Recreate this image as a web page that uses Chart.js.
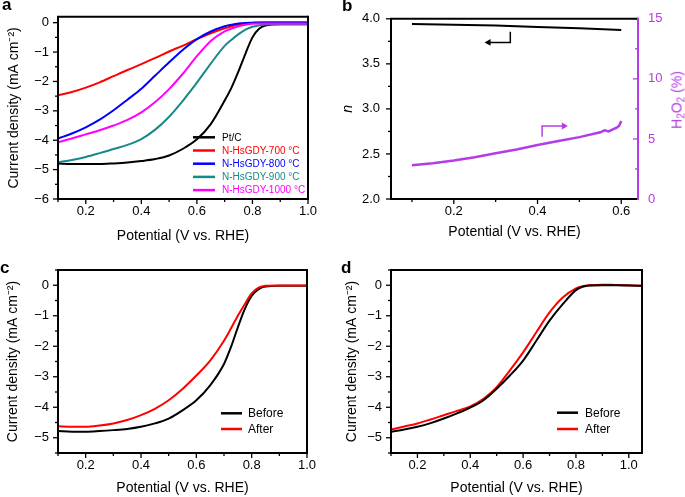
<!DOCTYPE html>
<html><head><meta charset="utf-8">
<script src="https://cdn.jsdelivr.net/npm/chart.js@4"></script>
<style>
html,body{margin:0;padding:0;background:#fff;}
#wrap{position:relative;width:685px;height:497px;overflow:hidden;background:#fff;font-family:"Liberation Sans",Arial,sans-serif;}
#wrap canvas{position:absolute;}
.lt{position:absolute;font-weight:bold;font-size:17px;line-height:17px;color:#000;}
.h2o2{position:absolute;left:678px;top:100px;color:#b43ce6;font-size:14px;line-height:1;white-space:nowrap;transform:translate(-50%,-50%) rotate(-90deg);}
.h2o2 sub{font-size:10px;vertical-align:-3px;line-height:1;}
</style></head>
<body>
<div id="wrap">
<canvas id="ca" width="342" height="248" style="left:0;top:0"></canvas>
<canvas id="cb" width="343" height="248" style="left:342px;top:0"></canvas>
<canvas id="cc" width="342" height="249" style="left:0;top:248px"></canvas>
<canvas id="cd" width="343" height="249" style="left:342px;top:248px"></canvas>
<div class="lt" style="left:2px;top:-4px">a</div>
<div class="lt" style="left:342px;top:-3px">b</div>
<div class="lt" style="left:0px;top:259px">c</div>
<div class="lt" style="left:341px;top:259px">d</div>
<div class="h2o2">H<sub>2</sub>O<sub>2</sub> (%)</div>
</div>
<script>
// ---------- data ----------
const potA = [0.1,0.15,0.2,0.25,0.3,0.35,0.4,0.45,0.5,0.55,0.6,0.65,0.7,0.725,0.75,0.775,0.8,0.825,0.85,0.9,0.95,1.0];
const ptC   = [-4.79,-4.81,-4.81,-4.81,-4.79,-4.76,-4.71,-4.64,-4.52,-4.29,-3.97,-3.45,-2.65,-2.2,-1.65,-1.05,-0.5,-0.2,-0.09,-0.05,-0.05,-0.05];
const g700  = [-2.47,-2.36,-2.21,-2.03,-1.82,-1.61,-1.41,-1.2,-0.98,-0.78,-0.56,-0.36,-0.19,-0.12,-0.07,-0.03,-0.01,0,0.01,0.01,0.01,0.01];
const g800  = [-3.94,-3.77,-3.56,-3.3,-2.98,-2.62,-2.25,-1.8,-1.35,-0.92,-0.56,-0.3,-0.12,-0.07,-0.03,-0.01,0,0.01,0.01,0.01,0.01,0.01];
const g900  = [-4.75,-4.67,-4.57,-4.44,-4.3,-4.16,-3.96,-3.64,-3.2,-2.65,-2.04,-1.39,-0.79,-0.58,-0.39,-0.24,-0.14,-0.09,-0.06,-0.05,-0.05,-0.05];
const g1000 = [-4.07,-3.94,-3.8,-3.66,-3.5,-3.31,-3.05,-2.7,-2.26,-1.73,-1.14,-0.62,-0.3,-0.2,-0.12,-0.07,-0.04,-0.03,-0.03,-0.03,-0.03,-0.03];
const seriesA = ['Pt/C','N-HsGDY-700 °C','N-HsGDY-800 °C','N-HsGDY-900 °C','N-HsGDY-1000 °C'];

const potN = [0.1,0.2,0.3,0.4,0.5,0.6];
const nVal = [3.942,3.935,3.925,3.91,3.895,3.875];
const potH = [0.1,0.15,0.2,0.25,0.3,0.35,0.4,0.45,0.5,0.55,0.56,0.57,0.58,0.59,0.595,0.6];
const h2o2 = [2.8,2.98,3.2,3.48,3.8,4.12,4.5,4.82,5.15,5.55,5.72,5.62,5.8,5.95,6.1,6.5];
const arrowNx = [0.335,0.335,0.283];
const arrowNy = [3.856,3.738,3.738];
const arrowHx = [0.411,0.411,0.463];
const arrowHy = [2.69,2.81,2.81];

const potC = [0.1,0.15,0.2,0.25,0.3,0.35,0.4,0.45,0.5,0.55,0.6,0.65,0.7,0.725,0.75,0.775,0.8,0.825,0.85,0.9,0.95,1.0];
const beforeC = [-4.78,-4.8,-4.8,-4.78,-4.75,-4.71,-4.64,-4.53,-4.37,-4.1,-3.77,-3.28,-2.58,-2.03,-1.38,-0.78,-0.35,-0.13,-0.04,-0.02,-0.02,-0.02];
const afterC  = [-4.62,-4.64,-4.64,-4.6,-4.53,-4.42,-4.26,-4.05,-3.77,-3.4,-2.96,-2.47,-1.82,-1.42,-1.0,-0.62,-0.27,-0.08,-0.02,-0.01,-0.01,-0.01];

const potD = [0.1,0.15,0.2,0.25,0.3,0.35,0.4,0.45,0.5,0.55,0.6,0.65,0.7,0.75,0.8,0.825,0.85,0.9,0.95,1.0,1.05];
const beforeD = [-4.8,-4.73,-4.64,-4.52,-4.37,-4.2,-4.01,-3.77,-3.39,-2.96,-2.47,-1.82,-1.16,-0.62,-0.16,-0.05,-0.01,0,0,-0.01,-0.02];
const afterD  = [-4.73,-4.63,-4.53,-4.4,-4.26,-4.12,-3.97,-3.72,-3.34,-2.79,-2.2,-1.54,-0.89,-0.4,-0.1,-0.03,0,0.02,0.01,0,-0.02];
const beforeAfter = ['Before','After'];

// ---------- helpers ----------
const F = "'Liberation Sans', Arial, sans-serif";
const MAG = '#b43ce6';
Chart.defaults.font.family = F;
Chart.defaults.color = '#000';
const pts = (xs, ys) => xs.map((x, i) => ({x, y: ys[i]}));
const isMult = (v, s) => Math.abs(v / s - Math.round(v / s)) < 1e-6;
const fmtNeg = v => Math.abs(v) < 1e-9 ? '0' : (v < 0 ? '\u2212' + Math.abs(v) : String(v));
const YTITLE = 'Current density (mA cm\u207B\u00B2)';
const stepTicks = step => s => {
  const t = [];
  for (let k = Math.ceil(s.min / step - 1e-6); k <= Math.floor(s.max / step + 1e-6); k++) t.push({value: +(k * step).toFixed(6)});
  s.ticks = t;
};

const deco = {
  id: 'deco',
  afterDatasetsDraw(chart, args, o) {
    const ctx = chart.ctx, a = chart.chartArea;
    ctx.save();
    (o.axes || []).forEach(ax => {
      const s = chart.scales[ax.id];
      ctx.strokeStyle = ax.color; ctx.lineWidth = 1.3;
      const k0 = Math.ceil(s.min / ax.minor - 1e-6), k1 = Math.floor(s.max / ax.minor + 1e-6);
      for (let k = k0; k <= k1; k++) {
        const v = k * ax.minor;
        const len = isMult(v, ax.major) ? 5 : 3;
        const p = s.getPixelForValue(v);
        ctx.beginPath();
        if (s.position === 'bottom') { ctx.moveTo(p, a.bottom); ctx.lineTo(p, a.bottom + len); }
        else if (s.position === 'left') { ctx.moveTo(a.left, p); ctx.lineTo(a.left - len, p); }
        else { ctx.moveTo(a.right, p); ctx.lineTo(a.right - len, p); }
        ctx.stroke();
      }
    });
    ctx.lineWidth = 2; ctx.strokeStyle = '#000';
    ctx.beginPath(); ctx.moveTo(a.right, a.top); ctx.lineTo(a.left, a.top); ctx.lineTo(a.left, a.bottom); ctx.lineTo(a.right, a.bottom); ctx.stroke();
    ctx.strokeStyle = o.rightColor || '#000';
    ctx.beginPath(); ctx.moveTo(a.right, a.top - 1); ctx.lineTo(a.right, a.bottom + 1); ctx.stroke();
    const lg = o.legend;
    if (lg) {
      ctx.font = lg.size + 'px ' + F; ctx.textBaseline = 'middle'; ctx.textAlign = 'left';
      lg.items.forEach((it, i) => {
        const y = lg.y0 + i * lg.dy;
        ctx.strokeStyle = it.color; ctx.lineWidth = 2.5;
        ctx.beginPath(); ctx.moveTo(lg.x1, y); ctx.lineTo(lg.x2, y); ctx.stroke();
        ctx.fillStyle = it.text; ctx.fillText(it.label, lg.tx, y + 0.5);
      });
    }
    ctx.restore();
  }
};

function xScale(min, max, h, titlePad) {
  return {
    type: 'linear', position: 'bottom', min, max,
    afterBuildTicks: stepTicks(0.1),
    ticks: { autoSkip: false, maxRotation: 0, padding: 5, font: {size: 13}, color: '#000',
      callback: v => (isMult(v, 0.2) && v > 0.15) ? v.toFixed(1) : '' },
    grid: { display: false, drawTicks: false }, border: { display: false },
    title: { display: true, text: 'Potential (V vs. RHE)', font: {size: 14}, color: '#000', padding: {top: 0, bottom: titlePad} },
    afterFit: s => { s.height = h; }
  };
}
function yScale(min, max, w, tpad, titlePad) {
  return {
    type: 'linear', position: 'left', min, max,
    afterBuildTicks: stepTicks(0.5),
    ticks: { autoSkip: false, padding: tpad, font: {size: 13}, color: '#000',
      callback: v => isMult(v, 1) ? fmtNeg(Math.round(v)) : '' },
    grid: { display: false, drawTicks: false }, border: { display: false },
    title: { display: true, text: YTITLE, font: {size: 14}, color: '#000', padding: {top: titlePad, bottom: 0} },
    afterFit: s => { s.width = w; }
  };
}
function line(label, xs, ys, color, extra) {
  return Object.assign({ label, data: pts(xs, ys), borderColor: color, backgroundColor: color, borderWidth: 2,
    pointRadius: 0, cubicInterpolationMode: 'monotone', fill: false }, extra || {});
}
const common = { responsive: false, animation: false, events: [] };

// ---------- a ----------
const colA = ['#000000', '#ff0000', '#0000ff', '#168a88', '#ff00ff'];
const valsA = [ptC, g700, g800, g900, g1000];
new Chart(document.getElementById('ca'), {
  type: 'line',
  data: { datasets: valsA.map((v, i) => line(seriesA[i], potA, v, colA[i])).reverse() },
  options: Object.assign({}, common, {
    layout: { padding: { top: 13, right: 34, left: 0, bottom: 0 } },
    scales: { x: xScale(0.1, 1.0, 49, 3.6), y: yScale(-6, 0.2, 58, 9, 5.6) },
    plugins: { legend: {display: false}, tooltip: {enabled: false},
      deco: { axes: [{id: 'x', minor: 0.1, major: 0.2, color: '#000'}, {id: 'y', minor: 0.5, major: 1, color: '#000'}],
        legend: { size: 10, x1: 193, x2: 215, tx: 222, y0: 137.3, dy: 13.2,
          items: seriesA.map((l, i) => ({label: l, color: colA[i], text: i === 0 ? '#000' : colA[i]})) } } }
  }),
  plugins: [deco]
});

// ---------- b ----------
new Chart(document.getElementById('cb'), {
  type: 'line',
  data: { datasets: [
    line('n', potN, nVal, '#000', {yAxisID: 'y', cubicInterpolationMode: 'default', tension: 0}),
    line('H2O2', potH, h2o2, MAG, {yAxisID: 'y2', borderWidth: 2.5, cubicInterpolationMode: 'default', tension: 0}),
    line('arrowN', arrowNx, arrowNy, '#000', {yAxisID: 'y', borderWidth: 1.5, cubicInterpolationMode: 'default', tension: 0,
      pointRadius: [0, 0, 4], pointStyle: 'triangle', pointRotation: [0, 0, -90], pointBorderWidth: 0}),
    line('arrowH', arrowHx, arrowHy, MAG, {yAxisID: 'y', borderWidth: 1.5, cubicInterpolationMode: 'default', tension: 0,
      pointRadius: [0, 0, 4], pointStyle: 'triangle', pointRotation: [0, 0, 90], pointBorderWidth: 0})
  ] },
  options: Object.assign({}, common, {
    layout: { padding: { top: 13, right: 0, left: 0, bottom: 0 } },
    scales: {
      x: xScale(0.05, 0.64, 49, 7),
      y: { type: 'linear', position: 'left', min: 2, max: 4,
        afterBuildTicks: stepTicks(0.25),
        ticks: { autoSkip: false, padding: 11, font: {size: 13}, color: '#000',
          callback: v => isMult(v, 0.5) ? v.toFixed(1) : '' },
        grid: { display: false, drawTicks: false }, border: { display: false },
        title: { display: true, text: 'n', font: {size: 14, style: 'italic'}, color: '#000', padding: {top: -2, bottom: 0} },
        afterFit: s => { s.width = 49; } },
      y2: { type: 'linear', position: 'right', min: 0, max: 15,
        afterBuildTicks: stepTicks(2.5),
        ticks: { autoSkip: false, padding: 10, font: {size: 13}, color: MAG,
          callback: v => isMult(v, 5) ? String(Math.round(v)) : '' },
        grid: { display: false, drawTicks: false }, border: { display: false },
        title: { display: false },
        afterFit: s => { s.width = 47; } }
    },
    plugins: { legend: {display: false}, tooltip: {enabled: false},
      deco: { rightColor: MAG, axes: [{id: 'x', minor: 0.1, major: 0.2, color: '#000'}, {id: 'y', minor: 0.25, major: 0.5, color: '#000'},
        {id: 'y2', minor: 2.5, major: 5, color: MAG}] } }
  }),
  plugins: [deco]
});

// ---------- c ----------
new Chart(document.getElementById('cc'), {
  type: 'line',
  data: { datasets: [line('After', potC, afterC, '#ff0000'), line('Before', potC, beforeC, '#000')] },
  options: Object.assign({}, common, {
    layout: { padding: { top: 22, right: 35, left: 0, bottom: 0 } },
    scales: { x: xScale(0.1, 1.0, 44, 0), y: yScale(-5.5, 0.5, 58, 9, 5) },
    plugins: { legend: {display: false}, tooltip: {enabled: false},
      deco: { axes: [{id: 'x', minor: 0.1, major: 0.2, color: '#000'}, {id: 'y', minor: 0.5, major: 1, color: '#000'}],
        legend: { size: 12, x1: 221, x2: 242, tx: 248, y0: 165.3, dy: 15.7,
          items: [{label: beforeAfter[0], color: '#000', text: '#000'}, {label: beforeAfter[1], color: '#ff0000', text: '#000'}] } } }
  }),
  plugins: [deco]
});

// ---------- d ----------
new Chart(document.getElementById('cd'), {
  type: 'line',
  data: { datasets: [line('Before', potD, beforeD, '#000'), line('After', potD, afterD, '#ff0000')] },
  options: Object.assign({}, common, {
    layout: { padding: { top: 22, right: 43, left: 0, bottom: 0 } },
    scales: { x: xScale(0.1, 1.05, 44, 0.6), y: yScale(-5.5, 0.5, 49, 9, 1.3) },
    plugins: { legend: {display: false}, tooltip: {enabled: false},
      deco: { axes: [{id: 'x', minor: 0.1, major: 0.2, color: '#000'}, {id: 'y', minor: 0.5, major: 1, color: '#000'}],
        legend: { size: 12, x1: 215, x2: 236, tx: 243, y0: 164.7, dy: 16.3,
          items: [{label: beforeAfter[0], color: '#000', text: '#000'}, {label: beforeAfter[1], color: '#ff0000', text: '#000'}] } } }
  }),
  plugins: [deco]
});
</script>
</body></html>
